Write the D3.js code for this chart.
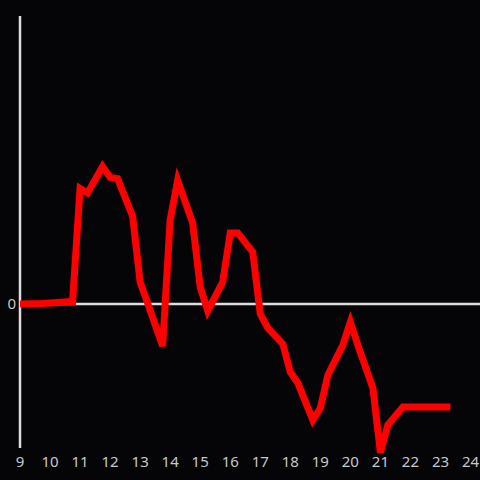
<!DOCTYPE html>
<html>
<head>
<meta charset="utf-8">
<script src="https://cdn.jsdelivr.net/npm/d3@7"></script>
<style>
  html, body { margin: 0; padding: 0; background: #050406; }
  svg { display: block; }
</style>
</head>
<body>
<div id="chart"></div>
<script>
// hours of the day and the value at each
var hours = [9.0, 9.75, 10.75, 11.0, 11.25, 11.75, 12.0, 12.25, 12.75, 13.0, 13.25, 13.75,
    14.0, 14.25, 14.75, 15.0, 15.25, 15.75, 16.0, 16.25, 16.75, 17.0, 17.25, 17.75,
    18.0, 18.25, 18.75, 19.0, 19.25, 19.75, 20.0, 20.25, 20.75, 21.0, 21.25, 21.75, 23.33];
var values = [0.0, 0.02, 0.08, 3.85, 3.7, 4.58, 4.22, 4.18, 2.93, 0.73, 0.03, -1.4,
    2.8, 4.12, 2.7, 0.57, -0.23, 0.73, 2.37, 2.37, 1.73, -0.33, -0.8, -1.33,
    -2.27, -2.63, -3.87, -3.47, -2.37, -1.37, -0.6, -1.37, -2.8, -4.95, -4.03, -3.43, -3.43];
var xTicks = [9, 10, 11, 12, 13, 14, 15, 16, 17, 18, 19, 20, 21, 22, 23, 24];
var yTicks = [0];

drawLine('chart');

function drawLine(divName) {
    var svgwidth = 480, svgheight = 480;
    var svg = d3.select('#' + divName)
        .append('svg')
        .attr('width', svgwidth)
        .attr('height', svgheight)
        .style('background-color', '#050406');

    var x = d3.scaleLinear().domain([9, 24]).range([20, 470.5]);
    var y = d3.scaleLinear().domain([-4.8, 9.6]).range([448, 16]);

    // y axis line
    svg.append('line')
        .attr('x1', x(9)).attr('x2', x(9))
        .attr('y1', y(9.6)).attr('y2', y(-4.8))
        .attr('stroke', '#dddddd')
        .attr('stroke-width', 2.5);

    // zero line
    svg.append('line')
        .attr('x1', x(9)).attr('x2', 480)
        .attr('y1', y(0)).attr('y2', y(0))
        .attr('stroke', '#dddddd')
        .attr('stroke-width', 2.5);

    // x tick labels
    svg.append('g').selectAll('text')
        .data(xTicks)
        .enter()
        .append('text')
        .attr('x', function (d) { return x(d); })
        .attr('y', 467)
        .attr('text-anchor', 'middle')
        .attr('fill', '#c8c8c8')
        .style('font-family', 'Noto Sans, sans-serif')
        .style('font-size', '15px')
        .text(function (d) { return d; });

    // y tick labels
    svg.append('g').selectAll('text')
        .data(yTicks)
        .enter()
        .append('text')
        .attr('x', 16)
        .attr('y', function (d) { return y(d); })
        .attr('dy', '0.35em')
        .attr('text-anchor', 'end')
        .attr('fill', '#c8c8c8')
        .style('font-family', 'Noto Sans, sans-serif')
        .style('font-size', '15px')
        .text(function (d) { return d; });

    // red line
    var line = d3.line()
        .x(function (d, i) { return x(hours[i]); })
        .y(function (d) { return y(d); });
    svg.append('path')
        .datum(values)
        .attr('d', line)
        .attr('fill', 'none')
        .attr('stroke', '#ff0000')
        .attr('stroke-width', 7)
        .attr('stroke-linejoin', 'miter');
}
</script>
</body>
</html>
